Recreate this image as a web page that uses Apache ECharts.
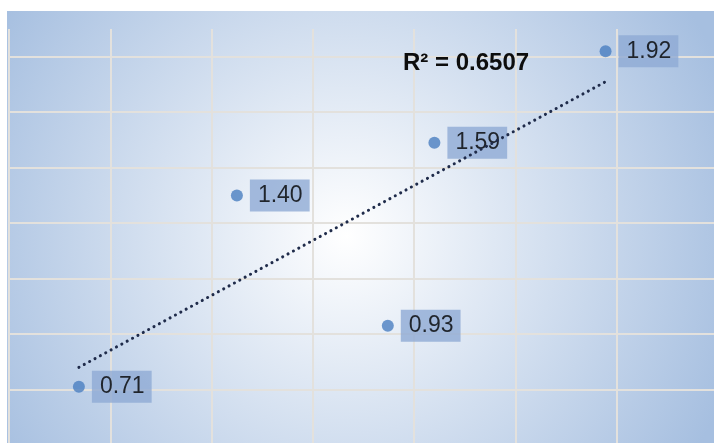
<!DOCTYPE html>
<html>
<head>
<meta charset="utf-8">
<script src="https://cdn.jsdelivr.net/npm/echarts@6/dist/echarts.min.js"></script>
<style>
  html, body { margin: 0; padding: 0; background: #fff; }
  #chart { width: 714px; height: 443px; }
</style>
</head>
<body>
<div id="chart"></div>
<script>
// points (x in gridline units, y as labelled)
const xValues = [0.69, 2.25, 3.74, 4.2, 5.89];
const yValues = [0.71, 1.40, 0.93, 1.59, 1.92];
// trendline ends as seen in the picture
const trendX = [0.69, 5.89];
const trendY = [0.78, 1.81];
const r2Text = 'R² = 0.6507';

const points = xValues.map((x, i) => [x, yValues[i]]);
const trend = trendX.map((x, i) => [x, trendY[i]]);

const chart = echarts.init(document.getElementById('chart'));

const gridLine = {
    show: true,
    lineStyle: { color: '#e3e1dd', width: 2 },
};

chart.setOption({
    animation: false,
    graphic: [
        {
            type: 'rect',
            z: -10,
            shape: { x: 7, y: 11, width: 707, height: 432 },
            style: {
                fill: new echarts.graphic.RadialGradient(0.48, 0.52, 0.95, [
                    { offset: 0, color: '#ffffff' },
                    { offset: 1, color: '#a6bfe0' },
                ]),
            },
        },
        {
            type: 'text',
            z: 100,
            left: 403,
            top: 51,
            style: {
                text: r2Text,
                font: 'bold 24px "Liberation Sans", Arial, sans-serif',
                fill: '#0d0d0d',
            },
        },
    ],
    grid: {
        left: 9,
        top: 29,
        right: -4,
        bottom: -2,
        outerBoundsMode: 'none',
    },
    xAxis: {
        type: 'value',
        min: 0,
        max: 7,
        interval: 1,
        axisLine: { show: false },
        axisTick: { show: false },
        axisLabel: { show: false },
        splitLine: Object.assign({ showMaxLine: false }, gridLine),
    },
    yAxis: {
        type: 'value',
        min: 0.5,
        max: 2.0,
        interval: 0.2,
        axisLine: { show: false },
        axisTick: { show: false },
        axisLabel: { show: false },
        splitLine: Object.assign({ showMaxLine: false, showMinLine: false }, gridLine),
    },
    series: [
        {
            type: 'scatter',
            z: 2,
            data: points,
            symbolSize: 12,
            itemStyle: { color: '#4a7ec0' },
            label: {
                show: true,
                position: 'right',
                distance: 7,
                formatter: (p) => p.value[1].toFixed(2),
                fontFamily: '"Liberation Sans", Arial, sans-serif',
                fontSize: 23,
                color: '#000000',
                backgroundColor: '#8faad4',
                padding: [5, 7, 4, 8],
            },
        },
        {
            type: 'line',
            z: 5,
            data: trend,
            showSymbol: false,
            silent: true,
            lineStyle: {
                color: '#1f2b4a',
                width: 3,
                type: [0.1, 6],
                cap: 'round',
            },
        },
    ],
});
</script>
</body>
</html>
